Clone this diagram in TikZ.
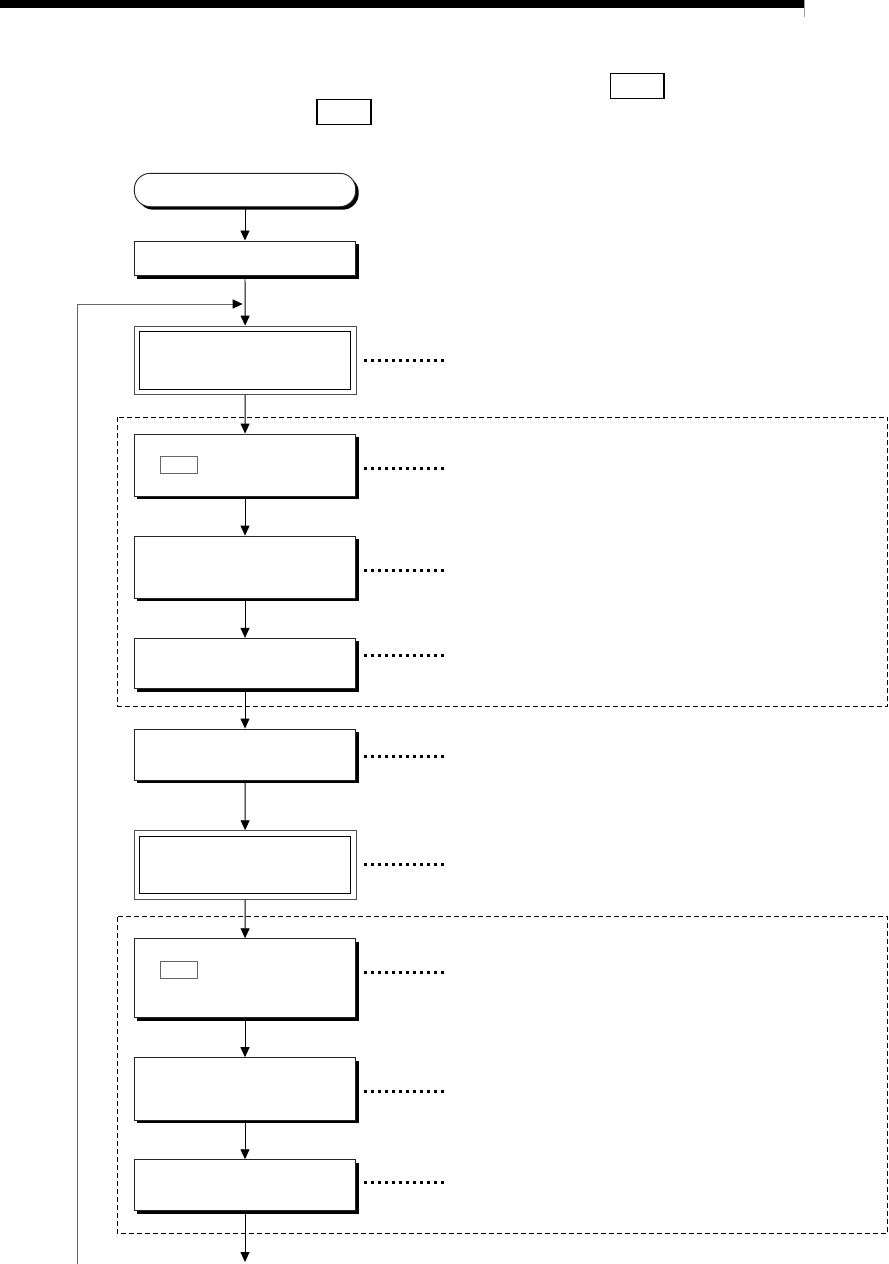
\documentclass[tikz,border=0pt]{standalone}
\usetikzlibrary{arrows.meta,shadows}
\begin{document}
\begin{tikzpicture}[x=1pt,y=-1pt,
  shd/.style={drop shadow={shadow xshift=3pt,shadow yshift=-3pt,fill=black,opacity=1}},
  procbox/.style={draw=black!85,fill=white,line width=0.9pt,minimum width=221.4pt,inner sep=0pt,shd},
  termbox/.style={procbox,rounded corners=16pt},
  dblbox/.style={draw=black!70,fill=white,line width=0.9pt,minimum width=221.6pt,inner sep=0pt},
  dblinner/.style={draw=black,line width=1.1pt},
  keybox/.style={draw=black!60,line width=0.7pt,fill=white},
  hdrkey/.style={draw=black,line width=1.5pt},
  flow/.style={draw=black,line width=0.9pt,-{Triangle[length=10pt,width=9pt]}},
  loop/.style={draw=black!60,line width=1pt,-{Triangle[length=10pt,width=9pt,fill=black,color=black]}},
  dotline/.style={draw=black,line width=3pt,line cap=butt,dash pattern=on 3pt off 4pt},
  grp/.style={draw=black,line width=0.8pt,dash pattern=on 5pt off 3pt}
]
\useasboundingbox (0,0) rectangle (889,1264);
% header bar
\fill[black] (0,0) rectangle (804,8);
\draw[black!40,line width=1pt] (804.5,0) -- (804.5,16.7);
% header key boxes
\draw[hdrkey] (610.5,73.5) rectangle (663.8,98.3);
\draw[hdrkey] (317,99.5) rectangle (371,124.3);

% dashed groups
\draw[grp] (117.3,417.3) rectangle (887.7,706);
\draw[grp] (117.3,916.7) rectangle (887.7,1233.3);

% nodes
\node[termbox,minimum height=33.4pt] (t) at (245,190) {};
\node[procbox,minimum height=34.7pt] (b1) at (245,258.3) {};
\node[dblbox,minimum height=68.3pt] (d1) at (245.2,360.2) {};
\draw[dblinner] ([shift={(5.7,5.8)}]d1.north west) rectangle ([shift={(-5.9,-5.5)}]d1.south east);
\node[procbox,minimum height=62.3pt] (A) at (245,465.2) {};
\node[procbox,minimum height=62.3pt] (B) at (245,567.2) {};
\node[procbox,minimum height=50.4pt] (C) at (245,663.5) {};
\node[procbox,minimum height=51pt] (D) at (245,754.5) {};
\node[dblbox,minimum height=68.6pt] (d2) at (245.2,865) {};
\draw[dblinner] ([shift={(5.7,6)}]d2.north west) rectangle ([shift={(-5.9,-6)}]d2.south east);
\node[procbox,minimum height=79pt] (E) at (245,978.2) {};
\node[procbox,minimum height=62.3pt] (F) at (245,1088.8) {};
\node[procbox,minimum height=51pt] (G) at (245,1185.2) {};

% small key boxes inside A and E
\draw[keybox] (160.3,456.7) rectangle (197,473.3);
\draw[keybox] (160.3,961) rectangle (197,978.3);

% flow connectors
\coordinate (join) at (245,304);
\coordinate (out) at (245,1262);
\coordinate (loopstart) at (77.7,1264);
\draw[flow] (t) -- (b1);
\draw[flow] (b1) -- (d1);
\draw[flow] (d1) -- (A);
\draw[flow] (A) -- (B);
\draw[flow] (B) -- (C);
\draw[flow] (C) -- (D);
\draw[flow] (D) -- (d2);
\draw[flow] (d2) -- (E);
\draw[flow] (E) -- (F);
\draw[flow] (F) -- (G);
\draw[flow] (G) -- (out);
\draw[loop,shorten >=2.3pt] (loopstart) |- (join);

% dotted leaders
\foreach \yy in {360.5,468.5,570.5,655.5,756.5,864.5,972.5,1091.5,1182.5}
  \draw[dotline] (364,\yy) -- (446,\yy);
\end{tikzpicture}
\end{document}
